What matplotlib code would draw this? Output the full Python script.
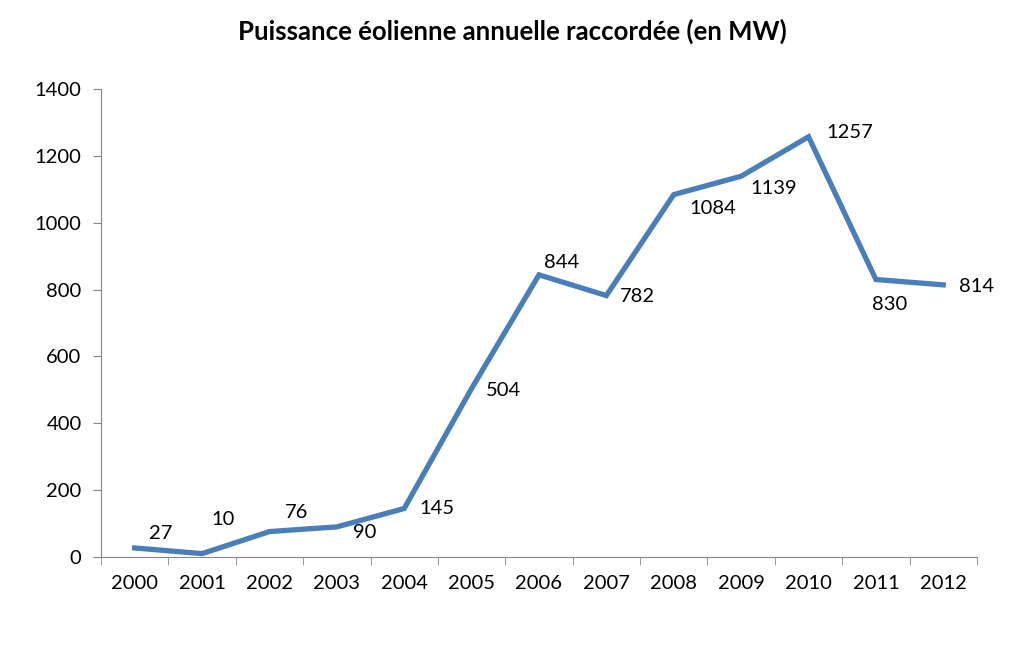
import numpy as np
import matplotlib.pyplot as plt

years = ['2000', '2001', '2002', '2003', '2004', '2005', '2006',
         '2007', '2008', '2009', '2010', '2011', '2012']
mw = [27, 10, 76, 90, 145, 504, 844, 782, 1084, 1139, 1257, 830, 814]

# label offsets in pixels (dx, dy), dy positive = up
offs = [(26, 14), (21, 34), (27, 19), (28, -6), (33, 0), (32, -2), (23, 12),
        (31, -1), (39, -14), (33, -12), (41, 4), (14, -25), (33, -2)]

plt.rcParams['font.family'] = ['Lato', 'DejaVu Sans']
fig = plt.figure(figsize=(10.24, 6.49), dpi=100)
ax = fig.add_axes([0.0986, 0.1418, 0.8555, 0.7211])

x = np.arange(len(years))
ax.plot(x, mw, color='#4A7EBB', lw=3.8, solid_joinstyle='miter')

for xi, v, (dx, dy) in zip(x, mw, offs):
    ax.annotate(str(v), (xi, v), xytext=(dx * 0.72, dy * 0.72),
                textcoords='offset points', ha='center', va='center',
                fontsize=14.5, color='black')

ax.set_xlim(-0.5, 12.5)
ax.set_ylim(0, 1400)
ax.set_yticks(range(0, 1401, 200))
ax.set_xticks(x)
ax.set_xticklabels(years)
ax.set_xticks(np.arange(-0.5, 12.6, 1), minor=True)
ax.tick_params(axis='x', which='major', length=0, labelsize=14.5, pad=13)
ax.tick_params(axis='x', which='minor', length=6, direction='out', color='#868686')
ax.tick_params(axis='y', length=6, direction='out', color='#868686', labelsize=14.5, pad=8)

for s in ['top', 'right']:
    ax.spines[s].set_visible(False)
for s in ['left', 'bottom']:
    ax.spines[s].set_color('#868686')

fig.text(0.5, 0.951, 'Puissance éolienne annuelle raccordée (en MW)',
         ha='center', va='center', fontsize=18.5, fontweight='bold')

plt.savefig('out.png')
